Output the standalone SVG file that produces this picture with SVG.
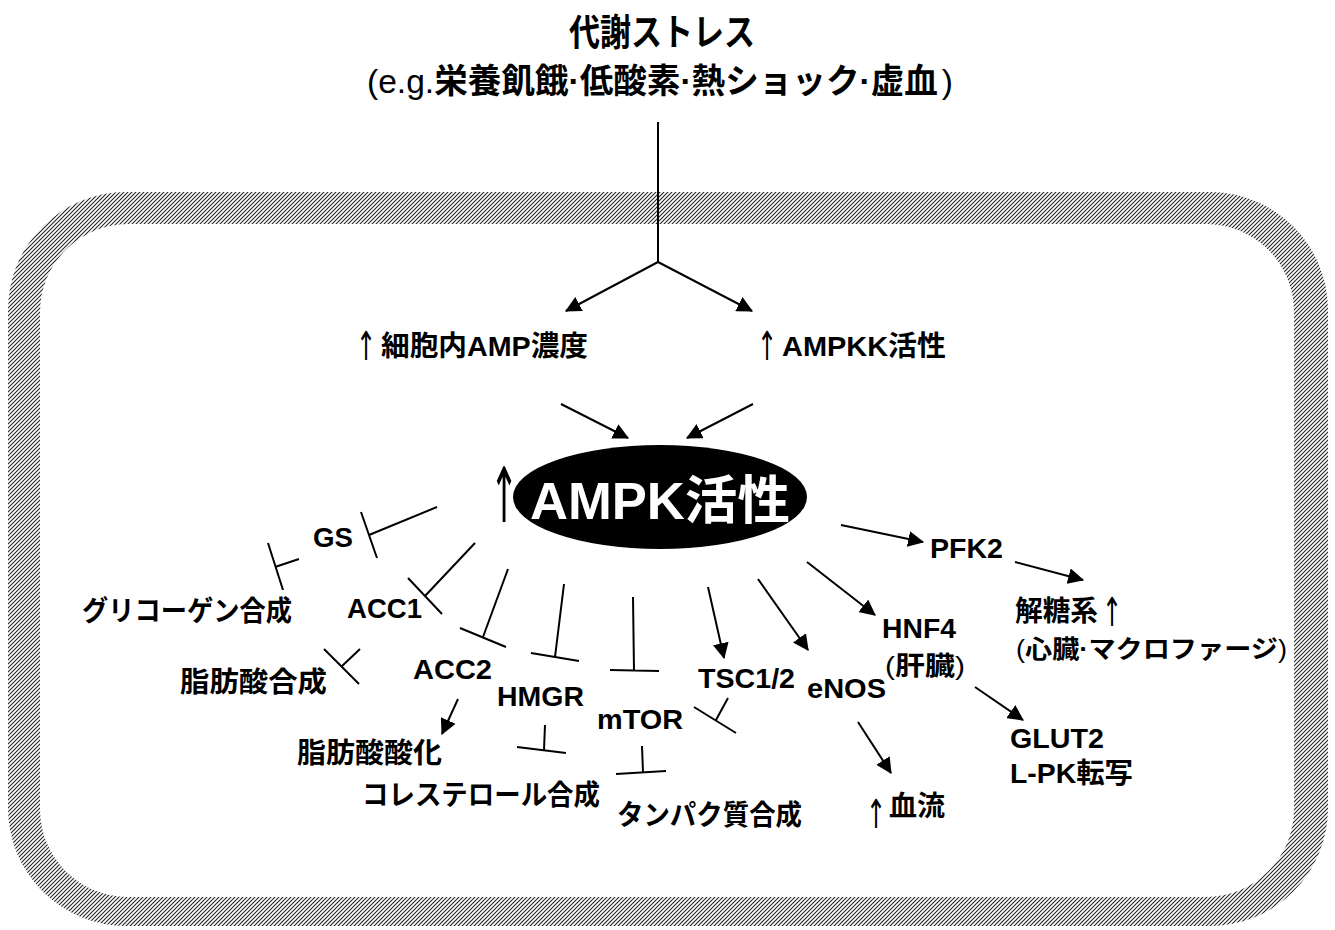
<svg xmlns="http://www.w3.org/2000/svg" width="1335" height="930" viewBox="0 0 1335 930">
<style>
.t{font-family:"Liberation Sans","Noto Sans CJK JP",sans-serif;font-weight:bold;font-size:28px;fill:#000}
.ttl{font-family:"Liberation Sans","Noto Sans CJK JP",sans-serif;font-weight:bold;font-size:37px;fill:#000}
.n{font-weight:normal}
.up{font-family:"DejaVu Sans",sans-serif;font-weight:normal;font-size:40px;fill:#000;text-anchor:middle}
.ln{stroke:#000;stroke-width:2;fill:none}
.ar{stroke:#000;stroke-width:2;fill:none;marker-end:url(#ah)}
</style>
<defs>
<pattern id="hatch" patternUnits="userSpaceOnUse" width="4" height="4">
<path d="M-1,1 L1,-1 M0,4 L4,0 M3,5 L5,3" stroke="#222" stroke-width="1.1"/>
</pattern>
<marker id="ah" markerUnits="userSpaceOnUse" markerWidth="16" markerHeight="16" viewBox="0 0 14 14" refX="13" refY="7" orient="auto">
<path d="M0,0 L14,7 L0,14 z" fill="#000"/>
</marker>
</defs>
<rect width="1335" height="930" fill="#fff"/>
<g id="cell">
<path fill="url(#hatch)" fill-rule="evenodd" d="M126,192 H1210 A118,118 0 0 1 1328,310 V808 A118,118 0 0 1 1210,926 H126 A118,118 0 0 1 8,808 V310 A118,118 0 0 1 126,192 Z M128,224 H1206 A88,88 0 0 1 1294,312 V809 A88,88 0 0 1 1206,897 H128 A88,88 0 0 1 40,809 V312 A88,88 0 0 1 128,224 Z"/>
</g>
<g id="stress">
<text class="ttl" x="569" y="46" textLength="186" lengthAdjust="spacingAndGlyphs">代謝ストレス</text>
<text class="ttl" x="367" y="93" style="font-size:34px" textLength="586" lengthAdjust="spacingAndGlyphs"><tspan class="n">(e.g.</tspan>栄養飢餓·低酸素·熱ショック·虚血<tspan class="n" dx="4">)</tspan></text>
</g>
<g id="amp">
<text class="up" transform="translate(366,360) scale(0.6,1)">↑</text>
<text class="t" x="381" y="356" textLength="207" lengthAdjust="spacingAndGlyphs">細胞内AMP濃度</text>
</g>
<g id="ampkk">
<text class="up" transform="translate(767,360) scale(0.6,1)">↑</text>
<text class="t" x="782" y="356" textLength="164" lengthAdjust="spacingAndGlyphs">AMPKK活性</text>
</g>
<g id="ampk">
<ellipse cx="660" cy="497" rx="147" ry="52" fill="#000"/>
<text class="up" transform="translate(504,522) scale(0.45,1)" style="font-size:76px">↑</text>
<text class="t" x="530" y="519" style="font-size:52px;fill:#fff" textLength="260" lengthAdjust="spacingAndGlyphs">AMPK活性</text>
</g>
<g id="gs"><text class="t" x="313" y="547" textLength="40" lengthAdjust="spacingAndGlyphs">GS</text></g>
<g id="glycogen"><text class="t" x="82" y="621" textLength="210" lengthAdjust="spacingAndGlyphs">グリコーゲン合成</text></g>
<g id="acc1"><text class="t" x="347" y="618" textLength="75" lengthAdjust="spacingAndGlyphs">ACC1</text></g>
<g id="fas"><text class="t" x="180" y="692" textLength="147" lengthAdjust="spacingAndGlyphs">脂肪酸合成</text></g>
<g id="acc2"><text class="t" x="413" y="679" textLength="79" lengthAdjust="spacingAndGlyphs">ACC2</text></g>
<g id="hmgr"><text class="t" x="497" y="706" textLength="87" lengthAdjust="spacingAndGlyphs">HMGR</text></g>
<g id="mtor"><text class="t" x="597" y="729" textLength="86" lengthAdjust="spacingAndGlyphs">mTOR</text></g>
<g id="tsc"><text class="t" x="698" y="688" textLength="97" lengthAdjust="spacingAndGlyphs">TSC1/2</text></g>
<g id="enos"><text class="t" x="807" y="698" textLength="79" lengthAdjust="spacingAndGlyphs">eNOS</text></g>
<g id="hnf4">
<text class="t" x="882" y="638" textLength="74" lengthAdjust="spacingAndGlyphs">HNF4</text>
<text class="t" x="885" y="675" style="font-size:26px" textLength="80" lengthAdjust="spacingAndGlyphs"><tspan class="n">(</tspan>肝臓<tspan class="n">)</tspan></text>
</g>
<g id="pfk2"><text class="t" x="930" y="558" textLength="73" lengthAdjust="spacingAndGlyphs">PFK2</text></g>
<g id="glycolysis">
<text class="t" x="1015" y="621" textLength="83" lengthAdjust="spacingAndGlyphs">解糖系</text>
<text class="up" transform="translate(1112,626) scale(0.6,1)">↑</text>
<text class="t" x="1016" y="658" style="font-size:25px" textLength="271" lengthAdjust="spacingAndGlyphs"><tspan class="n">(</tspan>心臓·マクロファージ<tspan class="n">)</tspan></text>
</g>
<g id="fao"><text class="t" x="297" y="763" textLength="145" lengthAdjust="spacingAndGlyphs">脂肪酸酸化</text></g>
<g id="chol"><text class="t" x="362" y="805" textLength="238" lengthAdjust="spacingAndGlyphs">コレステロール合成</text></g>
<g id="protein"><text class="t" x="617" y="825" textLength="185" lengthAdjust="spacingAndGlyphs">タンパク質合成</text></g>
<g id="flow">
<text class="up" transform="translate(876,828) scale(0.6,1)">↑</text>
<text class="t" x="889" y="816" textLength="56" lengthAdjust="spacingAndGlyphs">血流</text>
</g>
<g id="glut2">
<text class="t" x="1010" y="748" textLength="94" lengthAdjust="spacingAndGlyphs">GLUT2</text>
<text class="t" x="1010" y="783" textLength="123" lengthAdjust="spacingAndGlyphs">L-PK転写</text>
</g>
<g id="connectors">
<path class="ln" d="M658,122 V262"/>
<path class="ar" d="M658,262 L566,311"/>
<path class="ar" d="M658,262 L752,311"/>
<path class="ar" d="M561,404 L628,438"/>
<path class="ar" d="M753,404 L687,438"/>
<path class="ar" d="M841,525 L923,542"/>
<path class="ar" d="M1015,562 L1083,580"/>
<path class="ar" d="M807,562 L875,615"/>
<path class="ar" d="M758,579 L808,650"/>
<path class="ar" d="M708,587 L724,658"/>
<path class="ar" d="M458,699 L442,734"/>
<path class="ar" d="M975,687 L1023,720"/>
<path class="ar" d="M858,722 L891,773"/>
<path class="ln" d="M437,507 L369,535 M361,512 L377,558"/>
<path class="ln" d="M299,559 L275,567 M268,543 L283,590"/>
<path class="ln" d="M475,543 L425,596 M408,578 L442,614"/>
<path class="ln" d="M360,649 L341,667 M324,649 L359,684"/>
<path class="ln" d="M508,569 L483,637 M460,628 L506,647"/>
<path class="ln" d="M564,584 L555,657 M531,653 L579,661"/>
<path class="ln" d="M633,597 L634,671 M610,670 L659,671"/>
<path class="ln" d="M728,698 L716,720 M694,707 L736,733"/>
<path class="ln" d="M545,725 L544,750 M517,747 L566,753"/>
<path class="ln" d="M642,746 L643,772 M616,774 L666,771"/>
</g>
</svg>
